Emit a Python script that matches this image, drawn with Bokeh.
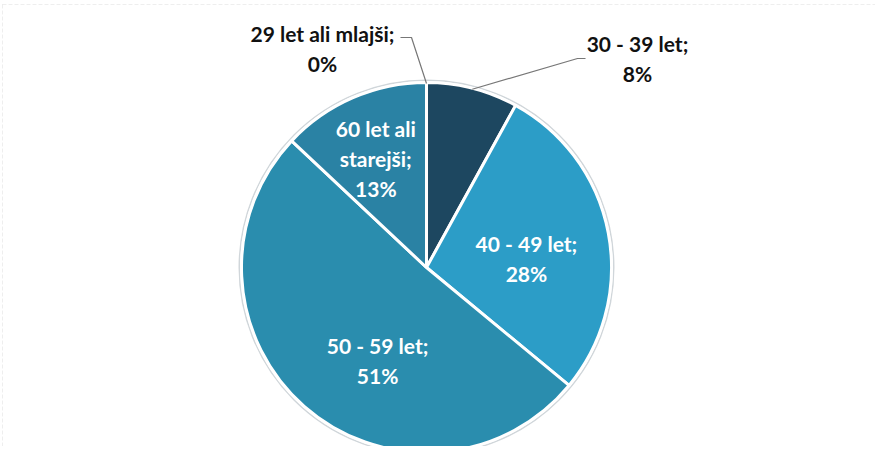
import numpy as np
from bokeh.plotting import figure
from bokeh.models import ColumnDataSource, BoxAnnotation
from bokeh.core.properties import value
from bokeh.embed import file_html
from bokeh.resources import INLINE

# ---- data ----
categories = ["29 let ali mlajši", "30 - 39 let", "40 - 49 let", "50 - 59 let", "60 let ali starejši"]
label_text = ["29 let ali mlajši;\n0%", "30 - 39 let;\n8%", "40 - 49 let;\n28%", "50 - 59 let;\n51%", "60 let ali\nstarejši;\n13%"]
percents = [0, 8, 28, 51, 13]
colors = ["#1d3f57", "#1d4760", "#2c9dc7", "#2a8dae", "#2a82a4"]

W, H = 875, 446
p = figure(width=W, height=H, x_range=(0, W), y_range=(0, H),
           output_backend="svg", toolbar_location=None, min_border=0)
p.axis.visible = False
p.grid.visible = False
p.outline_line_color = None
p.background_fill_color = "white"

# chart frame
p.add_layout(BoxAnnotation(left=2, right=W + 20, top=442, bottom=-20,
                           fill_alpha=0, line_color="#c8c8c8", line_width=1,
                           line_dash="4 2"))

cx, cy, R = 426, 179, 185
vals = np.array(percents, dtype=float)
frac = vals / vals.sum()
ang = 2 * np.pi * frac
ends = np.pi / 2 - np.cumsum(ang)
starts = ends + ang
mids = (starts + ends) / 2

src = ColumnDataSource(dict(start=ends, end=starts, color=colors, cat=categories))
# outer rim
p.circle(x=[cx], y=[cy], radius=R + 2, fill_color="#8d9ba3", line_color="#d0d6da", line_width=2)
p.wedge(x=cx, y=cy, radius=R, start_angle="start", end_angle="end",
        fill_color="color", line_color="white", line_width=3, source=src)

FS = "21px"
LH = 1.2
DY = -8

# inside labels (radius fraction and angle offset per slice)
rf = [0, 0, 0.55, 0.53, 0.69]
da = [0, 0, 0, 0.2, 0]
for i in [2, 3, 4]:
    a = mids[i] + da[i]
    lx = cx + rf[i] * R * np.cos(a)
    ly = cy + rf[i] * R * np.sin(a) + DY
    if i == 2:
        ly -= 2
    p.text(x=[lx], y=[ly], text=[label_text[i]], text_color="white",
           text_font=value("Lato"), text_font_style="bold", text_font_size=FS,
           text_align="center", text_baseline="middle", text_line_height=LH)

# outside labels with leader lines
out_pos = {0: (322, 406), 1: (637, 396)}
elbows = {0: [(400, 409), (411, 409)], 1: [(585, 388), (577, 388)]}
for i in [0, 1]:
    lx, ly = out_pos[i]
    p.text(x=[lx], y=[ly + DY], text=[label_text[i]], text_color="#111111",
           text_font=value("Lato"), text_font_style="bold", text_font_size=FS,
           text_align="center", text_baseline="middle", text_line_height=LH)
    ex = cx + (R - 1) * np.cos(mids[i])
    ey = cy + (R - 1) * np.sin(mids[i])
    xs = [pt[0] for pt in elbows[i]] + [ex]
    ys = [pt[1] for pt in elbows[i]] + [ey]
    p.line(x=xs, y=ys, line_color="#777777", line_width=1.2)

open("out.html", "w").write(file_html(p, INLINE))
